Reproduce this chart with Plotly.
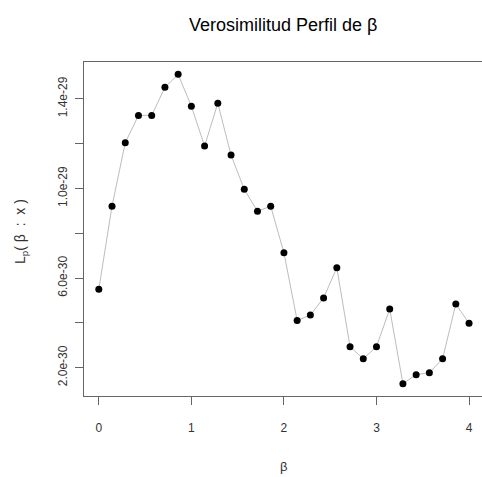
import numpy as np
import plotly.graph_objects as go

# Profile likelihood of beta evaluated on a grid of 29 values in [0, 4]
beta = np.linspace(0, 4, 29)
lp = np.array([
    5.50, 9.21, 12.04, 13.26, 13.26, 14.51, 15.09, 13.67, 11.89, 13.80,
    11.49, 9.96, 8.98, 9.21, 7.13, 4.11, 4.35, 5.11, 6.46, 2.94,
    2.40, 2.94, 4.62, 1.29, 1.69, 1.78, 2.40, 4.84, 3.98,
]) * 1e-30

# labelled y ticks, plus unlabelled ticks in between
y_tickvals = [2e-30, 6e-30, 1e-29, 1.4e-29]
y_ticktext = ["2.0e-30", "6.0e-30", "1.0e-29", "1.4e-29"]
y_minorvals = [4e-30, 8e-30, 1.2e-29]
x_tickvals = [0, 1, 2, 3, 4]
x_ticktext = ["0", "1", "2", "3", "4"]

W, H = 482, 477
L, R, T, B = 84, 0, 62, 81

# R-style 4% padding on the y data range
ymin, ymax = lp.min(), lp.max()
pad = 0.04 * (ymax - ymin)
yrange = [ymin - pad, ymax + pad]

FONT = "Liberation Sans, Arial, sans-serif"
AXIS_COL = "#666666"
TXT_COL = "#333333"
NB = "\u00a0"

fig = go.Figure()
fig.add_trace(go.Scatter(
    x=beta, y=lp, mode="lines+markers",
    line=dict(color="#bdbdbd", width=1),
    marker=dict(color="black", size=7, line=dict(width=0)),
    showlegend=False, hoverinfo="skip",
))

fig.update_layout(
    width=W, height=H,
    margin=dict(l=L, r=R, t=T, b=B, pad=0),
    paper_bgcolor="white", plot_bgcolor="white",
    font=dict(family=FONT, size=12, color=TXT_COL),
    showlegend=False,
    xaxis=dict(
        range=[-0.16, 4.14],
        tickmode="array", tickvals=x_tickvals, ticktext=x_ticktext,
        ticks="outside", ticklen=8, tickcolor=AXIS_COL, tickwidth=1,
        ticklabelstandoff=13,
        showline=True, linecolor=AXIS_COL, linewidth=1, mirror=True,
        showgrid=False, zeroline=False,
        tickfont=dict(size=12, color=TXT_COL),
    ),
    yaxis=dict(
        range=yrange,
        tickmode="array", tickvals=y_tickvals, ticktext=y_ticktext,
        ticks="outside", ticklen=8, tickcolor=AXIS_COL, tickwidth=1,
        minor=dict(tickmode="array", tickvals=y_minorvals, ticks="outside",
                   ticklen=8, tickcolor=AXIS_COL, tickwidth=1, showgrid=False),
        tickangle=-90, ticklabelstandoff=3,
        showline=True, linecolor=AXIS_COL, linewidth=1,
        showgrid=False, zeroline=False,
        tickfont=dict(size=12, color=TXT_COL),
    ),
    annotations=[
        dict(text="Verosimilitud Perfil de β", xref="paper", yref="paper",
             x=0.5, y=1, yanchor="middle", xanchor="center", yshift=T - 25,
             showarrow=False, font=dict(size=18, color="black", family=FONT)),
        dict(text="β", xref="paper", yref="paper", x=0.5, y=0,
             xanchor="center", yanchor="middle", yshift=-(466 - (H - B)),
             showarrow=False, font=dict(size=13, color=TXT_COL, family=FONT)),
        dict(text=f"L<sub>p</sub>({NB}β{NB}{NB}:{NB}{NB}x{NB})",
             xref="paper", yref="paper",
             x=0, y=0.5, xanchor="center", yanchor="middle",
             xshift=-(L - 21), yshift=-(232 - (T + (H - T - B) / 2)),
             textangle=-90, showarrow=False,
             font=dict(size=14, color=TXT_COL, family=FONT)),
    ],
)

fig.write_html("out.html")
